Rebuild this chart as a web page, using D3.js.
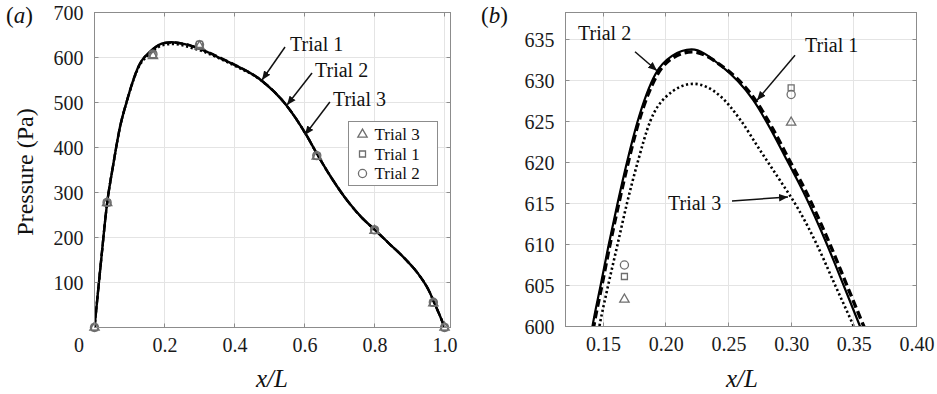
<!DOCTYPE html>
<html>
<head>
<meta charset="utf-8">
<script src="https://cdn.jsdelivr.net/npm/d3@7"></script>
<style>
  body { margin: 0; background: #fff; }
  svg { display: block; }
  svg text { font-family: 'Liberation Serif', 'DejaVu Serif', serif; }
</style>
</head>
<body>
<script>
// curves: [x/L, pressure in Pa]
const trial1 = [[0,0],[0.018,142],[0.036,276],[0.054,364],[0.073,446],[0.092,502],[0.11,548],[0.125,579],
  [0.1415,600],[0.148,605],[0.1545,610],[0.1615,615],[0.169,620],[0.1775,625],[0.1918,630.8],[0.205,633],
  [0.2206,633.8],[0.2432,631.9],[0.2698,627.6],[0.2832,624.2],[0.2966,620.3],[0.3098,616.4],[0.3286,610],
  [0.3419,605],[0.355,600],[0.396,585],[0.477,549],[0.548,494],[0.605,428],[0.634,388],[0.679,330],
  [0.727,277],[0.765,243],[0.801,217],[0.841,187],[0.888,152],[0.926,118],[0.954,84],[0.9735,50],[0.99,20],[1.0,0]];
const trial2 = [[0,0],[0.018,142],[0.036,276],[0.054,364],[0.073,446],[0.092,502],[0.11,548],[0.125,579],
  [0.1425,600],[0.149,605],[0.1555,610],[0.1625,615],[0.17,620],[0.1785,625],[0.1928,630.6],[0.206,632.8],
  [0.221,633.5],[0.2445,631.8],[0.2715,627.6],[0.285,624.2],[0.2985,620.3],[0.312,616.4],[0.331,610],
  [0.3445,605],[0.358,600],[0.397,585.5],[0.477,549],[0.548,494],[0.605,428],[0.634,388],[0.679,330],
  [0.727,277],[0.765,243],[0.801,217],[0.841,187],[0.888,152],[0.926,118],[0.954,84],[0.9735,50],[0.99,20],[1.0,0]];
const trial3 = [[0,0],[0.018,142],[0.036,276],[0.054,364],[0.073,446],[0.092,501],[0.11,546],[0.125,576],
  [0.147,600],[0.154,605],[0.1615,610],[0.169,615],[0.1775,620],[0.1875,625],[0.2,628],[0.222,629.6],
  [0.2435,628.1],[0.2595,625.2],[0.2752,621.5],[0.2912,617.8],[0.3058,614.3],[0.3205,610],[0.3352,605],
  [0.35,600],[0.396,583],[0.477,548],[0.548,494],[0.605,428],[0.634,388],[0.679,330],
  [0.727,277],[0.765,243],[0.801,217],[0.841,187],[0.888,152],[0.926,118],[0.954,84],[0.9735,50],[0.99,20],[1.0,0]];

// measured points
const markerX = [0, 0.036, 0.167, 0.30, 0.635, 0.80, 0.968, 1.0];
const trial3Pts = [0, 277, 603.3, 624.9, 380, 215, 54, 0];
const trial1Pts = [0, 277, 606.1, 629.1, 381, 216, 55, 0];
const trial2Pts = [0, 278, 607.5, 628.3, 382, 217, 56, 0];

const ticksAx = [0, 0.2, 0.4, 0.6, 0.8, 1.0];
const ticksAy = [100, 200, 300, 400, 500, 600, 700];
const ticksBx = [0.15, 0.20, 0.25, 0.30, 0.35, 0.40];
const ticksBy = [600, 605, 610, 615, 620, 625, 630, 635];

const W = 937, H = 394;
const FONT = "'Liberation Serif', 'DejaVu Serif', serif";
const axisColor = '#8c8c8c', gridColor = '#e4e4e4', markColor = '#6e6e6e';

const svg = d3.select('body').append('svg').attr('width', W).attr('height', H)
  .attr('font-family', FONT);
svg.append('rect').attr('width', W).attr('height', H).attr('fill', '#fff');

const defs = svg.append('defs');
defs.append('marker').attr('id', 'arrow')
  .attr('viewBox', '0 0 10 10').attr('refX', 10).attr('refY', 5)
  .attr('markerWidth', 6).attr('markerHeight', 6).attr('markerUnits', 'strokeWidth')
  .attr('orient', 'auto')
  .append('path').attr('d', 'M0,0.8 L10,5 L0,9.2 Z').attr('fill', '#111');

const xA = d3.scaleLinear().domain([0, 1.017]).range([94.5, 450.5]);
const yA = d3.scaleLinear().domain([0, 700]).range([327.5, 12.5]);
const xB = d3.scaleLinear().domain([0.12, 0.40]).range([565.5, 916.5]);
const yB = d3.scaleLinear().domain([600, 638.3]).range([326.5, 12.5]);

const styles = [
  { data: trial3, dash: '2.2,2.6', widthA: 2.2, widthB: 2.6 },
  { data: trial2, dash: '8,4', widthA: 2.4, widthB: 3.4 },
  { data: trial1, dash: null, widthA: 2.4, widthB: 2.2 }
];

const markerSets = [
  { type: d3.symbolTriangle, size: 38, vals: trial3Pts, label: 'Trial 3' },
  { type: d3.symbolSquare, size: 36, vals: trial1Pts, label: 'Trial 1' },
  { type: d3.symbolCircle, size: 52, vals: trial2Pts, label: 'Trial 2' }
];

const px = v => Math.round(v - 0.5) + 0.5;

function drawPanel(id, xs, ys, xTicks, yTicks, xFmt, wKey) {
  const [l, r] = xs.range(), [b, t] = ys.range();
  const g = svg.append('g');

  defs.append('clipPath').attr('id', id).append('rect')
    .attr('x', l).attr('y', t).attr('width', r - l).attr('height', b - t);

  // grid
  g.selectAll(null).data(xTicks.filter(d => xs(d) > l + 1 && xs(d) < r - 1)).join('line')
    .attr('x1', d => px(xs(d))).attr('x2', d => px(xs(d))).attr('y1', t).attr('y2', b)
    .attr('stroke', gridColor).attr('stroke-width', 1);
  g.selectAll(null).data(yTicks.filter(d => ys(d) > t + 1 && ys(d) < b - 1)).join('line')
    .attr('y1', d => px(ys(d))).attr('y2', d => px(ys(d))).attr('x1', l).attr('x2', r)
    .attr('stroke', gridColor).attr('stroke-width', 1);

  // curves
  const line = d3.line().x(d => xs(d[0])).y(d => ys(d[1])).curve(d3.curveMonotoneX);
  const cg = g.append('g').attr('clip-path', `url(#${id})`);
  styles.forEach(s => {
    cg.append('path').datum(s.data).attr('d', line)
      .attr('fill', 'none').attr('stroke', '#000')
      .attr('stroke-width', s[wKey])
      .attr('stroke-dasharray', s.dash)
      .attr('stroke-linejoin', 'round');
  });

  // measured points
  markerSets.forEach(m => {
    const pts = markerX.map((x, i) => [x, m.vals[i]])
      .filter(d => d[0] >= xs.domain()[0] && d[0] <= xs.domain()[1] && d[1] >= ys.domain()[0] && d[1] <= ys.domain()[1]);
    g.selectAll(null).data(pts).join('path')
      .attr('d', d3.symbol(m.type, m.size))
      .attr('transform', d => `translate(${xs(d[0])},${ys(d[1])})`)
      .attr('fill', 'none').attr('stroke', markColor).attr('stroke-width', 1.3);
  });

  // box and inward ticks
  g.append('rect').attr('x', l).attr('y', t).attr('width', r - l).attr('height', b - t)
    .attr('fill', 'none').attr('stroke', axisColor).attr('stroke-width', 1);
  const tk = 4;
  xTicks.forEach(d => {
    const x = px(xs(d));
    g.append('line').attr('x1', x).attr('x2', x).attr('y1', b).attr('y2', b - tk).attr('stroke', axisColor);
    g.append('line').attr('x1', x).attr('x2', x).attr('y1', t).attr('y2', t + tk).attr('stroke', axisColor);
  });
  yTicks.forEach(d => {
    const y = px(ys(d));
    g.append('line').attr('y1', y).attr('y2', y).attr('x1', l).attr('x2', l + tk).attr('stroke', axisColor);
    g.append('line').attr('y1', y).attr('y2', y).attr('x1', r).attr('x2', r - tk).attr('stroke', axisColor);
  });

  // tick labels
  const xAxis = g.append('g').attr('transform', `translate(0,${b})`)
    .call(d3.axisBottom(xs).tickValues(xTicks).tickFormat(xFmt).tickSize(0).tickPadding(0));
  const yAxis = g.append('g').attr('transform', `translate(${l},0)`)
    .call(d3.axisLeft(ys).tickValues(yTicks).tickFormat(d3.format('d')).tickSize(0).tickPadding(0));
  [xAxis, yAxis].forEach(a => {
    a.attr('font-family', FONT).attr('font-size', 20);
    a.select('.domain').remove();
    a.selectAll('text').attr('fill', '#1a1a1a');
  });
  xAxis.selectAll('text').attr('y', 24).attr('dy', null);
  yAxis.selectAll('text').attr('x', -11).attr('dy', '0.34em');
  return { g, xAxis };
}

const pa = drawPanel('clipA', xA, yA, ticksAx, ticksAy, d => d === 0 ? '0' : d3.format('.1f')(d), 'widthA');
pa.xAxis.selectAll('text').filter(d => d === 0).attr('dx', -16);
drawPanel('clipB', xB, yB, ticksBx, ticksBy, d3.format('.2f'), 'widthB');

// axis titles
svg.append('text').attr('transform', 'translate(33,172) rotate(-90)')
  .attr('text-anchor', 'middle').attr('font-size', 24).attr('fill', '#111').text('Pressure (Pa)');
[272, 742].forEach(cx => {
  svg.append('text').attr('x', cx).attr('y', 387).attr('text-anchor', 'middle')
    .attr('font-size', 25).attr('font-style', 'italic').attr('fill', '#111').text('x/L');
});
[[6, 'a'], [481, 'b']].forEach(([x, k]) => {
  const t = svg.append('text').attr('x', x).attr('y', 23).attr('font-size', 23).attr('fill', '#111');
  t.append('tspan').text('(');
  t.append('tspan').attr('font-style', 'italic').text(k);
  t.append('tspan').text(')');
});

// legend in panel a
const lg = svg.append('g').attr('transform', 'translate(348.5,121.5)');
lg.append('rect').attr('width', 89).attr('height', 64).attr('fill', '#fff').attr('stroke', axisColor);
markerSets.forEach((m, i) => {
  const y = 13 + i * 19.5;
  lg.append('path').attr('d', d3.symbol(m.type, m.size)).attr('transform', `translate(14,${y})`)
    .attr('fill', 'none').attr('stroke', markColor).attr('stroke-width', 1.3);
  lg.append('text').attr('x', 26).attr('y', y).attr('dy', '0.34em')
    .attr('font-size', 17).attr('fill', '#111').text(m.label);
});

// annotations: tip in data units, tail and text as offsets from the tip
const notesA = [
  { label: 'Trial 1', tip: [0.4786, 550], tail: [23, -33], text: [28, -29] },
  { label: 'Trial 2', tip: [0.55, 494.4], tail: [25, -32], text: [28, -28] },
  { label: 'Trial 3', tip: [0.601, 427.8], tail: [25, -33], text: [28, -29] }
];
const notesB = [
  { label: 'Trial 2', tip: [0.193, 631.2], tail: [-22, -19], text: [-79, -31] },
  { label: 'Trial 1', tip: [0.2728, 627.6], tail: [38, -45], text: [48, -48] },
  { label: 'Trial 3', tip: [0.2975, 615.8], tail: [-56, 4], text: [-120, 13] }
];
function annotate(notes, xs, ys) {
  notes.forEach(n => {
    const x = xs(n.tip[0]), y = ys(n.tip[1]);
    svg.append('line').attr('x1', x + n.tail[0]).attr('y1', y + n.tail[1]).attr('x2', x).attr('y2', y)
      .attr('stroke', '#111').attr('stroke-width', 1.5).attr('marker-end', 'url(#arrow)');
    svg.append('text').attr('x', x + n.text[0]).attr('y', y + n.text[1])
      .attr('font-size', 20).attr('fill', '#111').text(n.label);
  });
}
annotate(notesA, xA, yA);
annotate(notesB, xB, yB);
</script>
</body>
</html>
